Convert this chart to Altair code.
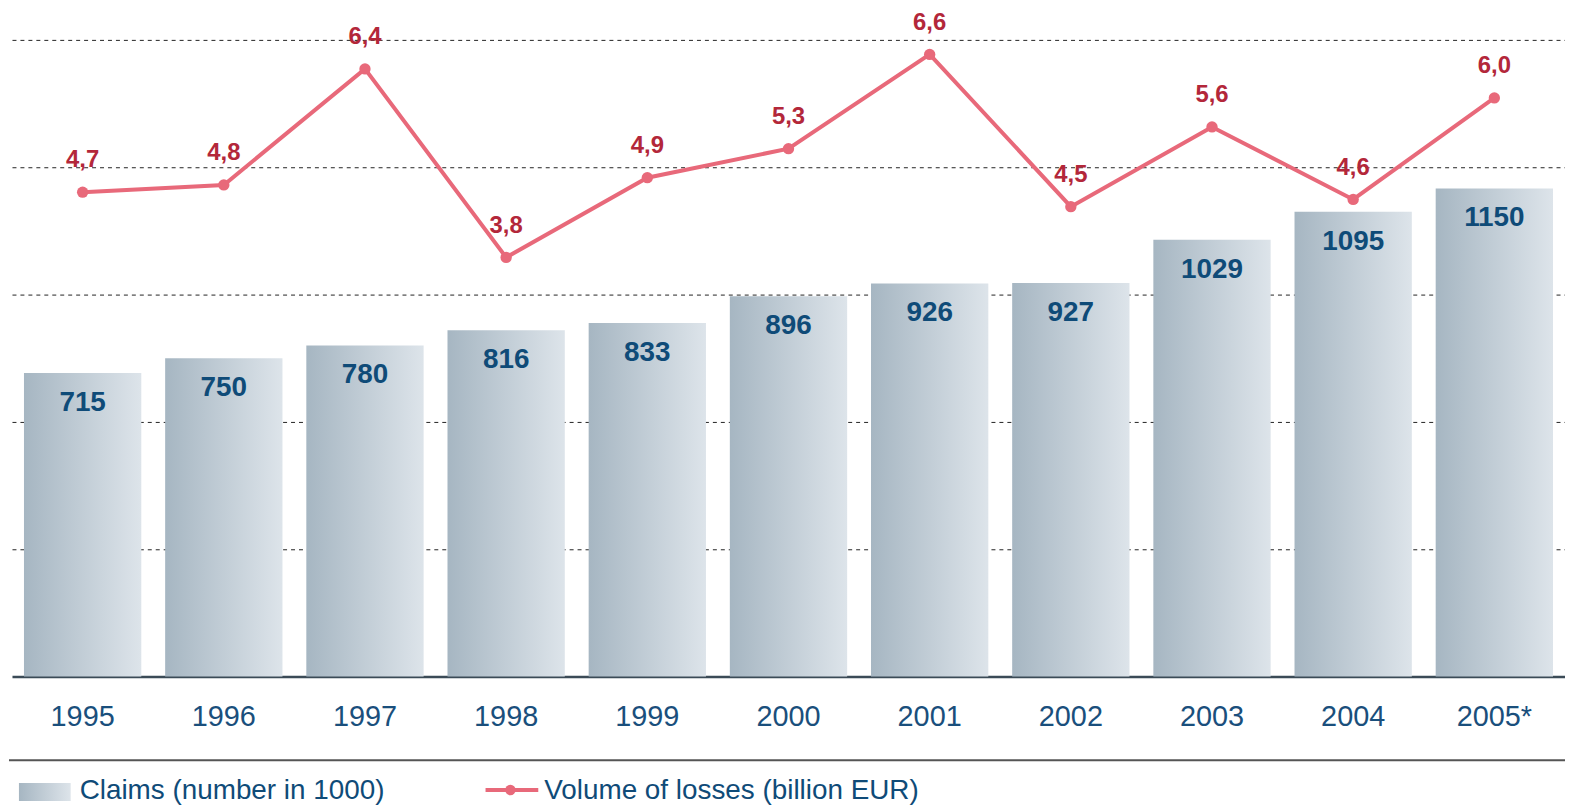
import altair as alt
import pandas as pd

years = ["1995", "1996", "1997", "1998", "1999", "2000", "2001", "2002", "2003", "2004", "2005*"]
claims = [715, 750, 780, 816, 833, 896, 926, 927, 1029, 1095, 1150]
losses = [4.7, 4.8, 6.4, 3.8, 4.9, 5.3, 6.6, 4.5, 5.6, 4.6, 6.0]
claims_ticks = [300, 600, 900, 1200, 1500]
legend_bar = "Claims (number in 1000)"
legend_line = "Volume of losses (billion EUR)"

df = pd.DataFrame({
    "year": years,
    "claims": claims,
    "losses": losses,
    "loss_label": [f"{v:.1f}".replace(".", ",") for v in losses],
})

FONT = "Liberation Sans"
BLUE_TXT = "#0f4b78"
AX_TXT = "#1a4f7c"
RED_TXT = "#b3273a"
LINE_C = "#e8697a"

grad = alt.Gradient(
    gradient="linear",
    stops=[alt.GradientStop(color="#a6b6c2", offset=0),
           alt.GradientStop(color="#dde4ea", offset=1)],
    x1=0, x2=1, y1=0, y2=0,
)

x_enc = alt.X("year:N", sort=years,
              scale=alt.Scale(paddingInner=0.169, paddingOuter=0.085),
              axis=alt.Axis(title=None, labelAngle=0, ticks=False, labelPadding=40,
                            labelBaseline="middle", labelFontSize=29, labelFont=FONT,
                            labelColor=AX_TXT, domainColor="#3b4b57", domainWidth=2.5))

y_bar = alt.Y("claims:Q", scale=alt.Scale(domain=[0, 1500], nice=False),
              axis=alt.Axis(title=None, labels=False, ticks=False, domain=False,
                            values=claims_ticks, grid=True, gridColor="#222222",
                            gridDash=[4, 4], gridWidth=1))

base = alt.Chart(df)

bars = base.mark_bar(color=grad).encode(x=x_enc, y=y_bar)
bar_text = base.mark_text(font=FONT, fontSize=28, fontWeight="bold", color=BLUE_TXT,
                          baseline="middle", dy=30).encode(
    x=alt.X("year:N", sort=years), y=alt.Y("claims:Q"), text="claims:Q")

y_line = alt.Y("losses:Q", scale=alt.Scale(domain=[-1.98, 6.8], nice=False, zero=False),
               axis=None)
line = base.mark_line(color=LINE_C, strokeWidth=4).encode(
    x=alt.X("year:N", sort=years), y=y_line)
pts = base.mark_circle(color=LINE_C, size=130, opacity=1).encode(
    x=alt.X("year:N", sort=years), y=y_line)
line_text = base.mark_text(font=FONT, fontSize=24, fontWeight="bold", color=RED_TXT,
                           baseline="middle", dy=-32).encode(
    x=alt.X("year:N", sort=years), y=y_line, text="loss_label:N")

one = alt.Chart(pd.DataFrame({"k": [0]}))
sep = one.mark_rule(color="#555555", strokeWidth=2).encode(
    x=alt.value(-3), x2=alt.value(1561), y=alt.value(724))
leg_rect = one.mark_rect(color=grad).encode(
    x=alt.value(7), x2=alt.value(59), y=alt.value(747), y2=alt.value(765))
leg_text1 = one.mark_text(font=FONT, fontSize=28, color=BLUE_TXT, align="left",
                          baseline="middle").encode(
    x=alt.value(68), y=alt.value(755), text=alt.value(legend_bar))
leg_line = one.mark_rule(color=LINE_C, strokeWidth=4).encode(
    x=alt.value(476), x2=alt.value(529), y=alt.value(754))
leg_pt = one.mark_circle(color=LINE_C, size=110, opacity=1).encode(
    x=alt.value(501), y=alt.value(754))
leg_text2 = one.mark_text(font=FONT, fontSize=28, color=BLUE_TXT, align="left",
                          baseline="middle").encode(
    x=alt.value(535), y=alt.value(755), text=alt.value(legend_line))

bar_layer = alt.layer(bars, bar_text)
line_layer = alt.layer(line, pts, line_text)

chart = alt.layer(
    bar_layer, line_layer, sep, leg_rect, leg_text1, leg_line, leg_pt, leg_text2
).resolve_scale(y="independent").properties(
    width=1561, height=640,
    background="white",
    autosize=alt.AutoSizeParams(type="none"),
    padding={"left": 4, "top": 30, "right": 0, "bottom": 130},
).configure_view(stroke=None)

chart.save("out.html", embed_options={"renderer": "svg", "actions": False})
